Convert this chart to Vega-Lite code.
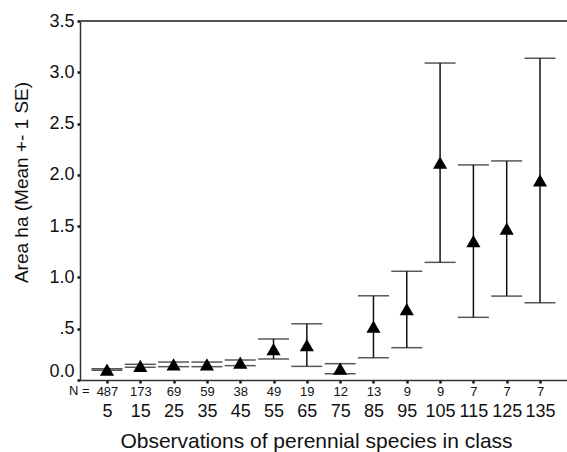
{
  "$schema": "https://vega.github.io/schema/vega-lite/v6.json",
  "autosize": {"type": "none"},
  "padding": {"left": 80, "top": 21, "right": 0, "bottom": 72},
  "width": 487,
  "height": 359,
  "config": {
    "font": "Liberation Sans",
    "view": {"stroke": null},
    "axis": {"grid": false, "labelColor": "#111", "titleColor": "#111", "domainColor": "#333", "domainWidth": 1.5, "tickColor": "#111", "titleFontWeight": "normal"}
  },
  "data": {
    "values": [
      {"key": "5|487", "cls": 5, "n": 487, "mean": 0.10, "lo": 0.095, "hi": 0.11},
      {"key": "15|173", "cls": 15, "n": 173, "mean": 0.138, "lo": 0.124, "hi": 0.153},
      {"key": "25|69", "cls": 25, "n": 69, "mean": 0.152, "lo": 0.13, "hi": 0.175},
      {"key": "35|59", "cls": 35, "n": 59, "mean": 0.152, "lo": 0.13, "hi": 0.175},
      {"key": "45|38", "cls": 45, "n": 38, "mean": 0.17, "lo": 0.14, "hi": 0.195},
      {"key": "55|49", "cls": 55, "n": 49, "mean": 0.30, "lo": 0.205, "hi": 0.40},
      {"key": "65|19", "cls": 65, "n": 19, "mean": 0.34, "lo": 0.133, "hi": 0.548},
      {"key": "75|12", "cls": 75, "n": 12, "mean": 0.11, "lo": 0.061, "hi": 0.159},
      {"key": "85|13", "cls": 85, "n": 13, "mean": 0.52, "lo": 0.217, "hi": 0.821},
      {"key": "95|9", "cls": 95, "n": 9, "mean": 0.69, "lo": 0.315, "hi": 1.06},
      {"key": "105|9", "cls": 105, "n": 9, "mean": 2.12, "lo": 1.147, "hi": 3.09},
      {"key": "115|7", "cls": 115, "n": 7, "mean": 1.354, "lo": 0.611, "hi": 2.097},
      {"key": "125|7", "cls": 125, "n": 7, "mean": 1.477, "lo": 0.818, "hi": 2.136},
      {"key": "135|7", "cls": 135, "n": 7, "mean": 1.945, "lo": 0.753, "hi": 3.137}
    ]
  },
  "resolve": {"axis": {"x": "independent"}},
  "layer": [
    {
      "mark": {"type": "rule", "color": "#111", "strokeWidth": 1.5},
      "encoding": {
        "x": {"field": "key", "type": "ordinal", "sort": null,
          "scale": {"type": "point", "padding": 0.81},
          "axis": {"orient": "bottom", "title": "N =", "titleFontSize": 13, "titleX": 9, "titleY": 10, "titleAlign": "right", "titleBaseline": "middle", "titleAngle": 0,
            "labelExpr": "split(datum.value, '|')[1]", "labelAngle": 0, "labelFontSize": 13, "labelPadding": 2, "tickSize": 3, "tickWidth": 2.5, "domain": true}},
        "y": {"field": "lo", "type": "quantitative", "title": "Area ha (Mean +- 1 SE)",
          "scale": {"domain": [0, 3.5], "nice": false, "zero": false},
          "axis": {"values": [0, 0.5, 1, 1.5, 2, 2.5, 3, 3.5], "labelExpr": "datum.value == 0.5 ? '.5' : format(datum.value, '.1f')",
            "labelFontSize": 18, "labelPadding": 3, "tickSize": 3, "tickWidth": 2.5,
            "labelBaseline": {"condition": {"test": "datum.value == 0", "value": "bottom"}, "value": "middle"},
            "title": "Area ha (Mean +- 1 SE)", "titleFontSize": 19, "titleX": -59, "titleY": 161, "titleAlign": "center", "titleBaseline": "middle", "titleAngle": -90}},
        "y2": {"field": "hi"}
      }
    },
    {
      "mark": {"type": "tick", "color": "#111", "size": 31, "thickness": 1.5, "orient": "horizontal"},
      "encoding": {
        "x": {"field": "key", "type": "ordinal", "sort": null, "axis": null},
        "y": {"field": "lo", "type": "quantitative", "title": "Area ha (Mean +- 1 SE)"}
      }
    },
    {
      "mark": {"type": "tick", "color": "#111", "size": 31, "thickness": 1.5, "orient": "horizontal"},
      "encoding": {
        "x": {"field": "key", "type": "ordinal", "sort": null, "axis": null},
        "y": {"field": "hi", "type": "quantitative", "title": "Area ha (Mean +- 1 SE)"}
      }
    },
    {
      "mark": {"type": "point", "shape": "triangle-up", "filled": true, "color": "#000", "size": 200, "opacity": 1},
      "encoding": {
        "x": {"field": "key", "type": "ordinal", "sort": null,
          "axis": {"orient": "bottom", "domain": false, "ticks": false, "labelExpr": "split(datum.value, '|')[0]", "labelAngle": 0,
            "labelFontSize": 18, "labelPadding": 22, "title": "Observations of perennial species in class", "titleFontSize": 21, "titlePadding": 10, "titleX": 236}},
        "y": {"field": "mean", "type": "quantitative", "title": "Area ha (Mean +- 1 SE)"}
      }
    },
    {
      "mark": {"type": "rule", "color": "#555", "strokeWidth": 1.5},
      "encoding": {"y": {"datum": 3.5}}
    }
  ]
}
